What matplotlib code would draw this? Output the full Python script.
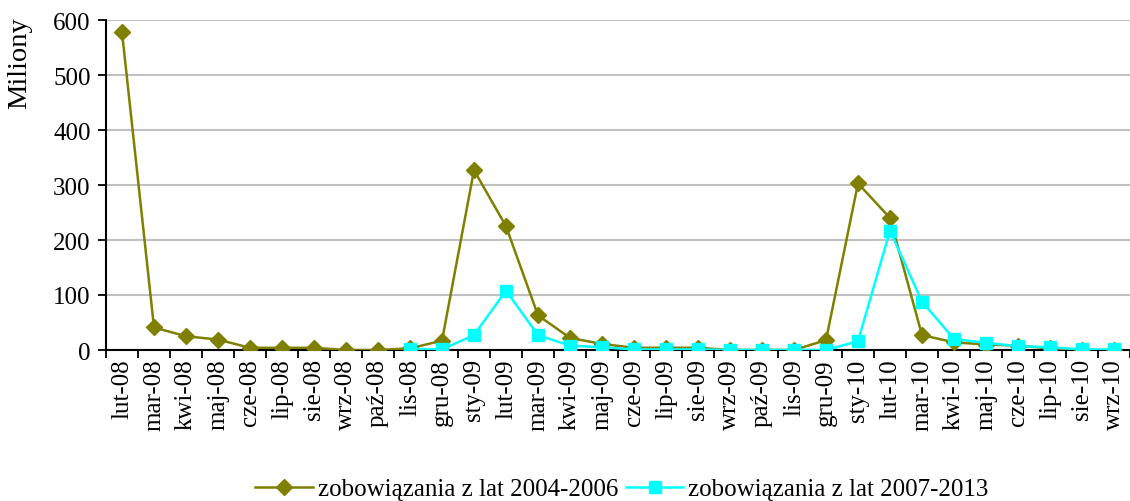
import matplotlib
matplotlib.use("Agg")
import matplotlib.pyplot as plt
import numpy as np

categories = ["lut-08", "mar-08", "kwi-08", "maj-08", "cze-08", "lip-08", "sie-08", "wrz-08",
              "paź-08", "lis-08", "gru-08", "sty-09", "lut-09", "mar-09", "kwi-09", "maj-09",
              "cze-09", "lip-09", "sie-09", "wrz-09", "paź-09", "lis-09", "gru-09", "sty-10",
              "lut-10", "mar-10", "kwi-10", "maj-10", "cze-10", "lip-10", "sie-10", "wrz-10"]

series1 = [578, 41, 25, 19, 4, 4, 4, 0, 0, 3, 17, 327, 225, 63, 22, 11,
           4, 4, 4, 0, 0, 0, 18, 303, 240, 27, 14, 10, 8, 3, 0, 0]
series2 = [None, None, None, None, None, None, None, None, None, 2, 1, 27, 108, 27, 8, 5,
           1, 1, 1, 0, 0, 0, 0, 16, 217, 88, 20, 13, 7, 5, 1, 1]

name1 = "zobowiązania z lat 2004-2006"
name2 = "zobowiązania z lat 2007-2013"

plt.rcParams['font.family'] = ['Liberation Serif', 'DejaVu Serif']
FS = 18

W, H = 1130, 502
fig = plt.figure(figsize=(W / 100, H / 100), dpi=100)
left_px, right_px, top_px, bot_px = 106, 1130, 21, 351
ax = fig.add_axes([left_px / W, 1 - bot_px / H, (right_px - left_px) / W, (bot_px - top_px) / H])

x = np.arange(len(categories))
s2 = np.array([np.nan if v is None else v for v in series2], dtype=float)

l1, = ax.plot(x, series1, color="#808000", lw=1.8, marker="D", markersize=8, zorder=3)
l2, = ax.plot(x, s2, color="#00FFFF", lw=1.8, marker="s", markersize=8, zorder=4)

spacing = 32.3
ax.set_xlim(-0.5, -0.5 + (right_px - left_px) / spacing)
ax.set_ylim(0, 600)
ax.set_yticks(range(0, 601, 100))
ax.set_xticks(x)
ax.set_xticklabels(categories, rotation=90, fontsize=FS)
ax.tick_params(axis='x', length=0, pad=6)
ax.set_xticks(np.arange(-0.5, len(categories) + 0.5, 1), minor=True)
ax.tick_params(axis='x', which='minor', length=6, width=1.3, direction='out', color='black')
ax.tick_params(axis='y', labelsize=FS, length=6, width=1.3, direction='out', pad=5)

ax.grid(axis='y', color='#c0c0c0', lw=1.5)
ax.set_axisbelow(True)
for s in ['top', 'right']:
    ax.spines[s].set_visible(False)
ax.spines['left'].set_linewidth(1.5)
ax.spines['bottom'].set_linewidth(1.5)

fig.text(20 / W, 1 - 17 / H, "Miliony", rotation=90, va='top', ha='center', fontsize=20.5)

fig.legend([l1, l2], [name1, name2], loc='center', bbox_to_anchor=(622 / W, 1 - 490 / H),
           ncol=2, frameon=False, fontsize=FS, handlelength=2.3, columnspacing=0.3,
           handletextpad=0.2, borderpad=0, borderaxespad=0)

fig.savefig("out.png", dpi=100)
